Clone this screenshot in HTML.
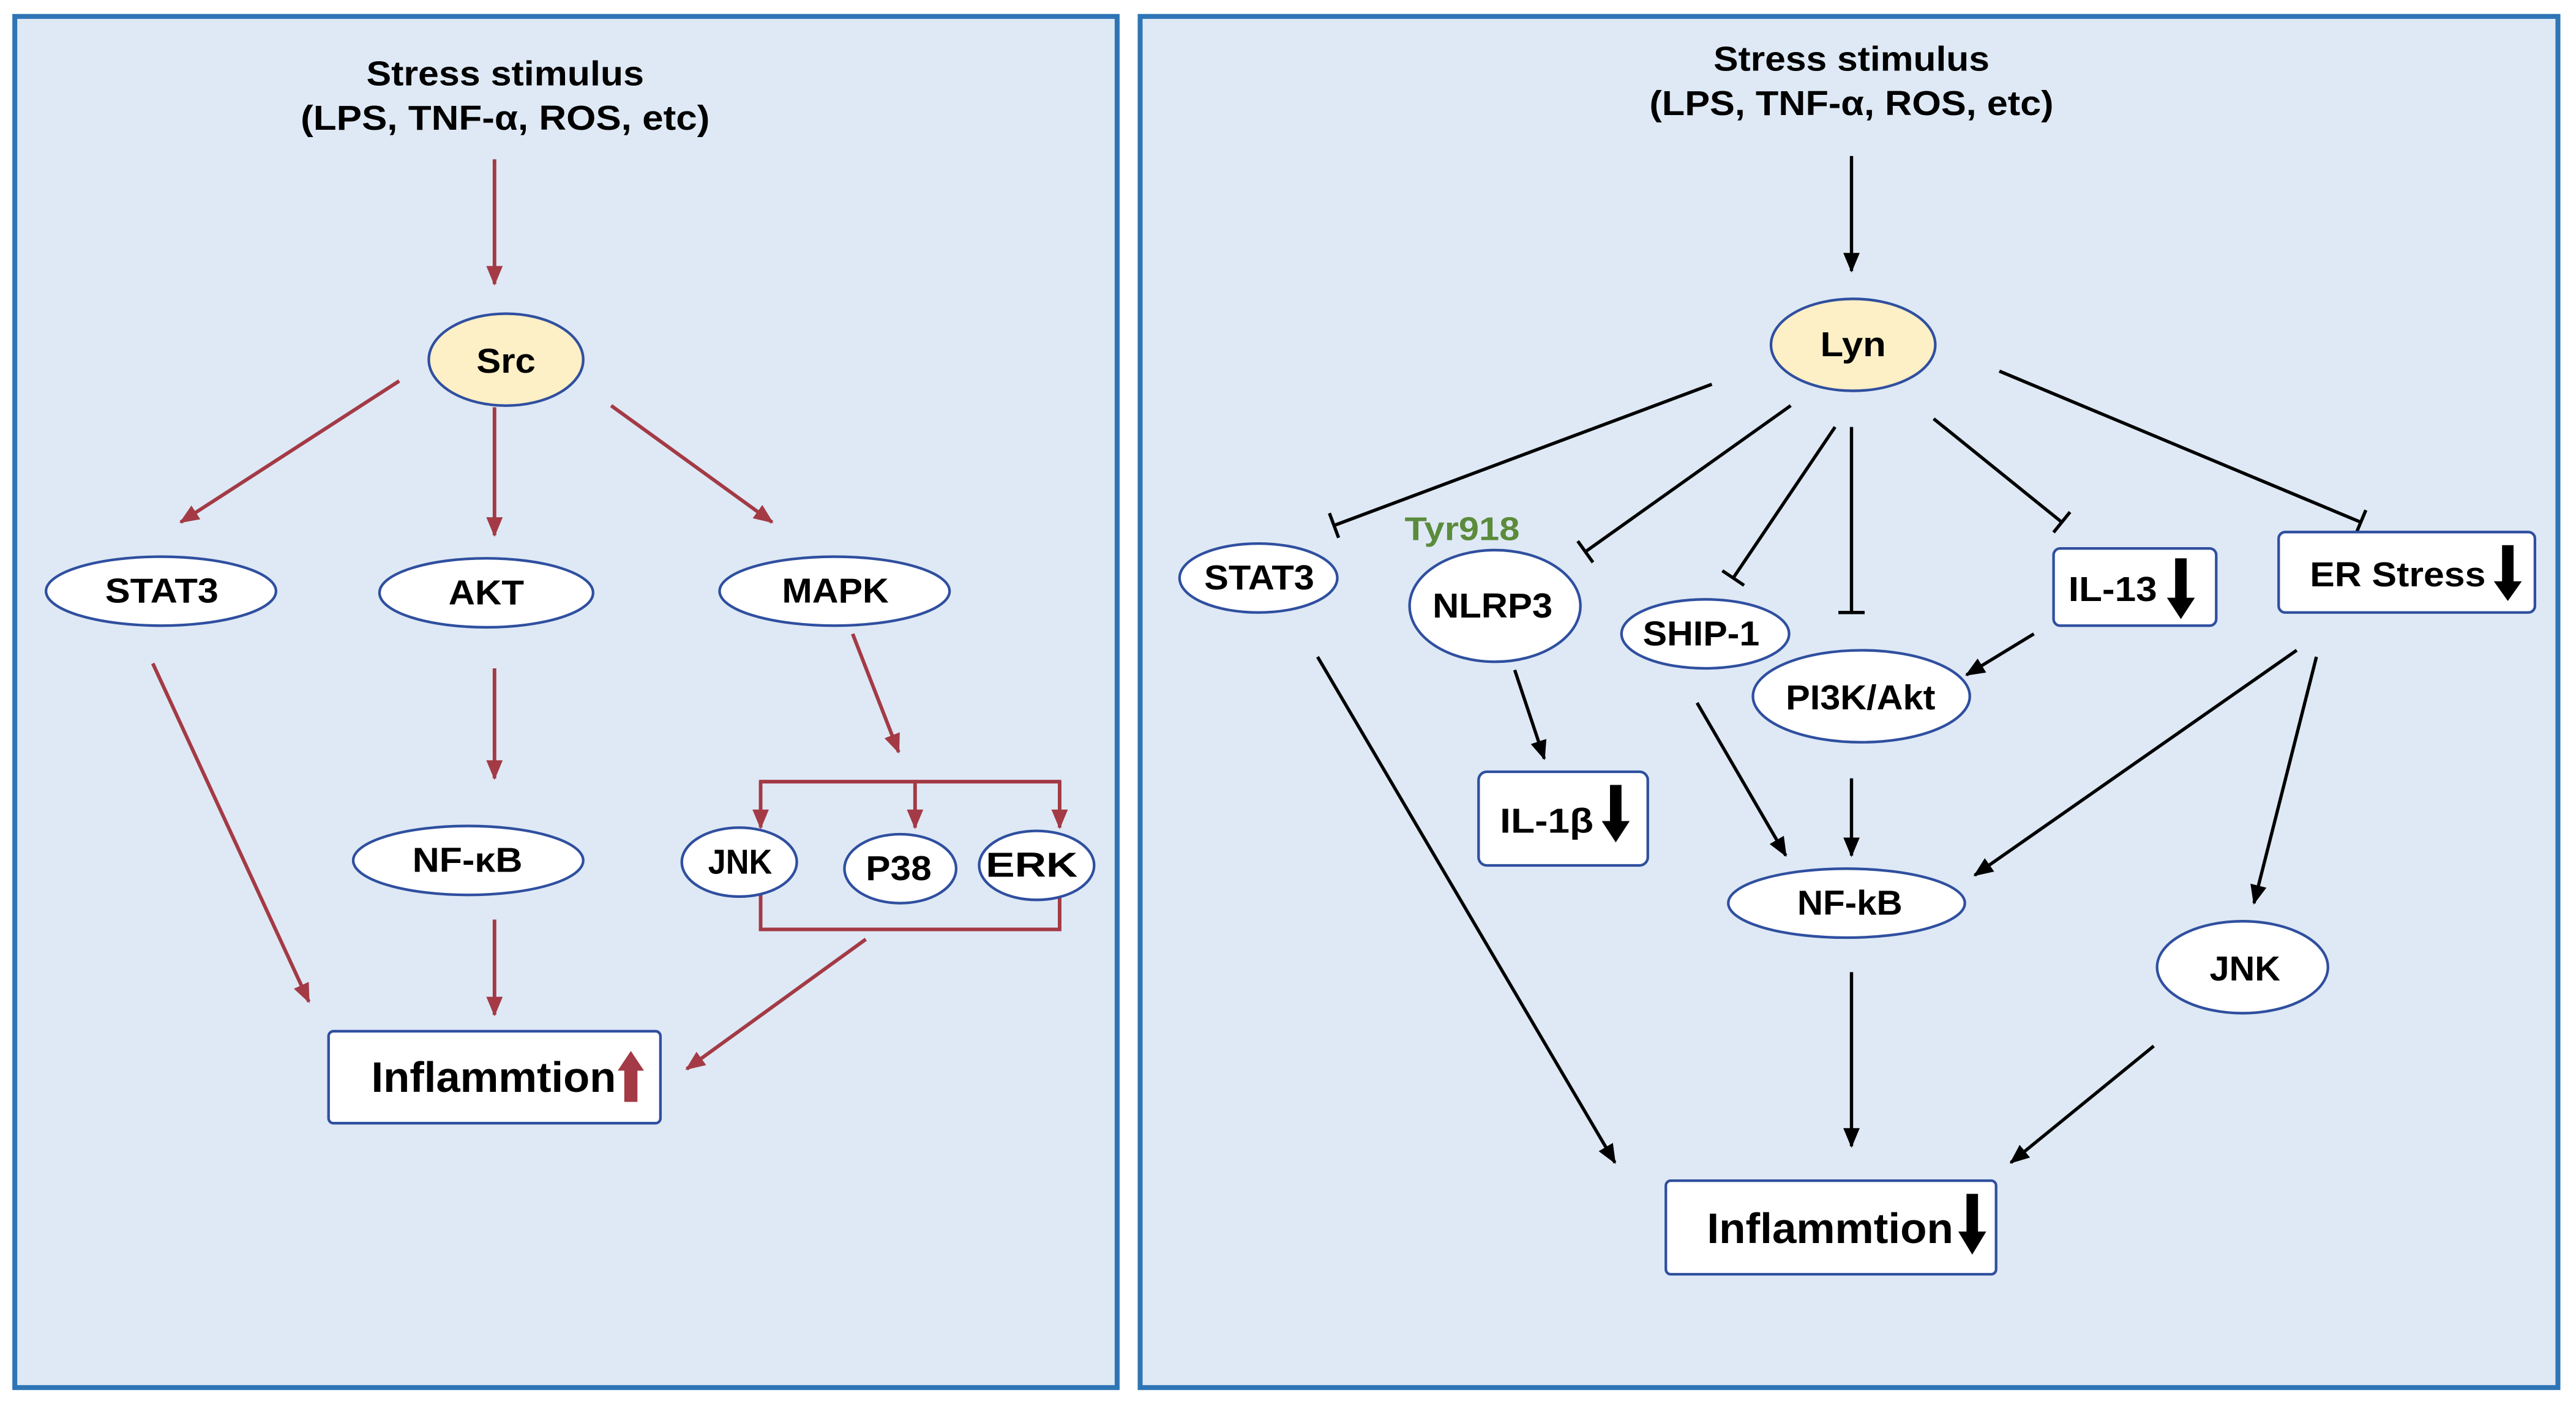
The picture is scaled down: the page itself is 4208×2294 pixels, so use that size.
<!DOCTYPE html>
<html><head><meta charset="utf-8"><style>
html,body{margin:0;padding:0;background:#fff;}
svg{display:block;}
text{font-family:"Liberation Sans",Arial,sans-serif;font-weight:bold;}
</style></head><body>
<svg width="4208" height="2294" viewBox="0 0 1568 855" preserveAspectRatio="none" xmlns="http://www.w3.org/2000/svg">
<defs>
<marker id="ar" viewBox="0 0 12 10" refX="11" refY="5" markerWidth="12" markerHeight="10" orient="auto" markerUnits="userSpaceOnUse"><path d="M0,0 L12,5 L0,10 Z" fill="#a33a45"/></marker>
<marker id="ab" viewBox="0 0 12 10" refX="11" refY="5" markerWidth="12" markerHeight="10" orient="auto" markerUnits="userSpaceOnUse"><path d="M0,0 L12,5 L0,10 Z" fill="#000"/></marker>
<marker id="tb" viewBox="0 0 10 16" refX="5" refY="8" markerWidth="10" markerHeight="16" orient="auto" markerUnits="userSpaceOnUse"><path d="M5,0 L5,16" stroke="#000" stroke-width="2"/></marker>
</defs>
<rect x="0" y="0" width="1568" height="855" fill="#fff"/>
<rect x="9" y="10" width="671" height="835" fill="#dee9f5" stroke="#2e75b6" stroke-width="3"/>
<rect x="694" y="10" width="863" height="835" fill="#dee9f5" stroke="#2e75b6" stroke-width="3"/>

<!-- LEFT -->
<g font-size="21" fill="#000" lengthAdjust="spacingAndGlyphs">
<text x="223" y="52" textLength="169" lengthAdjust="spacingAndGlyphs">Stress stimulus</text>
<text x="183" y="79" textLength="249" lengthAdjust="spacingAndGlyphs">(LPS, TNF-α, ROS, etc)</text>
</g>
<g stroke="#a33a45" stroke-width="2.2" fill="none" marker-end="url(#ar)">
<line x1="301" y1="97" x2="301" y2="173"/>
<line x1="243" y1="232" x2="110" y2="318"/>
<line x1="301" y1="248" x2="301" y2="326"/>
<line x1="372" y1="247" x2="470" y2="318"/>
<line x1="93" y1="404" x2="188" y2="610"/>
<line x1="301" y1="407" x2="301" y2="474"/>
<line x1="519" y1="386" x2="547" y2="458"/>
<line x1="301" y1="560" x2="301" y2="618"/>
<line x1="527" y1="572" x2="418" y2="651"/>
<line x1="463" y1="476" x2="463" y2="504"/>
<line x1="557" y1="476" x2="557" y2="504"/>
<line x1="645" y1="476" x2="645" y2="504"/>
</g>
<g stroke="#a33a45" stroke-width="2.2" fill="none">
<line x1="462" y1="476" x2="646" y2="476"/>
<polyline points="463,545 463,566 645,566 645,545"/>
</g>
<g stroke="#2f4f9f" stroke-width="1.6">
<ellipse cx="308" cy="219" rx="47" ry="28" fill="#fdefc6"/>
<ellipse cx="98" cy="360" rx="70" ry="21" fill="#fff"/>
<ellipse cx="296" cy="361" rx="65" ry="21" fill="#fff"/>
<ellipse cx="508" cy="360" rx="70" ry="21" fill="#fff"/>
<ellipse cx="285" cy="524" rx="70" ry="21" fill="#fff"/>
<ellipse cx="450" cy="525" rx="35" ry="21" fill="#fff"/>
<ellipse cx="548" cy="529" rx="34" ry="21" fill="#fff"/>
<ellipse cx="631" cy="527" rx="35" ry="21" fill="#fff"/>
<rect x="200" y="628" width="202" height="56" rx="3" fill="#fff"/>
</g>
<g font-size="21" fill="#000">
<text x="290" y="227" textLength="36" lengthAdjust="spacingAndGlyphs">Src</text>
<text x="64" y="367" textLength="69" lengthAdjust="spacingAndGlyphs">STAT3</text>
<text x="273" y="368" textLength="46" lengthAdjust="spacingAndGlyphs">AKT</text>
<text x="476" y="367" textLength="65" lengthAdjust="spacingAndGlyphs">MAPK</text>
<text x="251" y="531" textLength="67" lengthAdjust="spacingAndGlyphs">NF-κB</text>
<text x="431" y="532" textLength="39" lengthAdjust="spacingAndGlyphs">JNK</text>
<text x="527" y="536" textLength="40" lengthAdjust="spacingAndGlyphs">P38</text>
<text x="600" y="534" textLength="56" lengthAdjust="spacingAndGlyphs">ERK</text>
</g>
<text x="226" y="665" font-size="26" textLength="149" lengthAdjust="spacingAndGlyphs">Inflammtion</text>
<polygon points="380,671 380,652 376,652 384,640 392,652 388,652 388,671" fill="#a33a45"/>

<!-- RIGHT -->
<g font-size="21" fill="#000">
<text x="1043" y="43" textLength="168" lengthAdjust="spacingAndGlyphs">Stress stimulus</text>
<text x="1004" y="70" textLength="246" lengthAdjust="spacingAndGlyphs">(LPS, TNF-α, ROS, etc)</text>
</g>
<g stroke="#000" stroke-width="2" fill="none" marker-end="url(#ab)">
<line x1="1127" y1="95" x2="1127" y2="165"/>
<line x1="1238" y1="386" x2="1197" y2="411"/>
<line x1="922" y1="408" x2="940" y2="462"/>
<line x1="1033" y1="428" x2="1087" y2="521"/>
<line x1="1127" y1="474" x2="1127" y2="521"/>
<line x1="1398" y1="396" x2="1202" y2="533"/>
<line x1="1410" y1="400" x2="1372" y2="550"/>
<line x1="1127" y1="592" x2="1127" y2="698"/>
<line x1="802" y1="400" x2="983" y2="708"/>
<line x1="1311" y1="637" x2="1224" y2="708"/>
</g>
<g stroke="#000" stroke-width="2" fill="none" marker-end="url(#tb)">
<line x1="1042" y1="234" x2="812" y2="320"/>
<line x1="1090" y1="247" x2="965" y2="336"/>
<line x1="1117" y1="260" x2="1055" y2="352"/>
<line x1="1127" y1="260" x2="1127" y2="373"/>
<line x1="1177" y1="255" x2="1255" y2="318"/>
<line x1="1217" y1="226" x2="1437" y2="318"/>
</g>
<text x="855" y="329" font-size="20" textLength="70" lengthAdjust="spacingAndGlyphs" fill="#5b8b3b">Tyr918</text>
<g stroke="#2f4f9f" stroke-width="1.6">
<ellipse cx="1128" cy="210" rx="50" ry="28" fill="#fdefc6"/>
<ellipse cx="766" cy="352" rx="48" ry="21" fill="#fff"/>
<ellipse cx="910" cy="369" rx="52" ry="34" fill="#fff"/>
<ellipse cx="1038" cy="386" rx="51" ry="21" fill="#fff"/>
<ellipse cx="1133" cy="424" rx="66" ry="28" fill="#fff"/>
<ellipse cx="1124" cy="550" rx="72" ry="21" fill="#fff"/>
<ellipse cx="1365" cy="589" rx="52" ry="28" fill="#fff"/>
<rect x="1250" y="334" width="99" height="47" rx="4" fill="#fff"/>
<rect x="1387" y="324" width="156" height="49" rx="4" fill="#fff"/>
<rect x="900" y="470" width="103" height="57" rx="5" fill="#fff"/>
<rect x="1014" y="719" width="201" height="57" rx="3" fill="#fff"/>
</g>
<g font-size="21" fill="#000">
<text x="1108" y="217" textLength="40" lengthAdjust="spacingAndGlyphs">Lyn</text>
<text x="733" y="359" textLength="67" lengthAdjust="spacingAndGlyphs">STAT3</text>
<text x="872" y="376" textLength="73" lengthAdjust="spacingAndGlyphs">NLRP3</text>
<text x="1000" y="393" textLength="71" lengthAdjust="spacingAndGlyphs">SHIP-1</text>
<text x="1087" y="432" textLength="91" lengthAdjust="spacingAndGlyphs">PI3K/Akt</text>
<text x="1094" y="557" textLength="64" lengthAdjust="spacingAndGlyphs">NF-kB</text>
<text x="1345" y="597" textLength="43" lengthAdjust="spacingAndGlyphs">JNK</text>
<text x="1259" y="366" textLength="54" lengthAdjust="spacingAndGlyphs">IL-13</text>
<text x="1406" y="357" textLength="107" lengthAdjust="spacingAndGlyphs">ER Stress</text>
<text x="913" y="507" textLength="57" lengthAdjust="spacingAndGlyphs">IL-1β</text>
</g>
<text x="1039" y="757" font-size="26" textLength="150" lengthAdjust="spacingAndGlyphs">Inflammtion</text>
<g fill="#000">
<polygon points="1324,340 1331,340 1331,364 1336,364 1327.5,377 1319,364 1324,364"/>
<polygon points="1523,332 1530,332 1530,354 1535,354 1526.5,366 1518,354 1523,354"/>
<polygon points="980,478 987,478 987,500 992,500 983.5,513 975,500 980,500"/>
<polygon points="1197,727 1204,727 1204,750 1209,750 1200.5,764 1192,750 1197,750"/>
</g>
</svg>
</body></html>
